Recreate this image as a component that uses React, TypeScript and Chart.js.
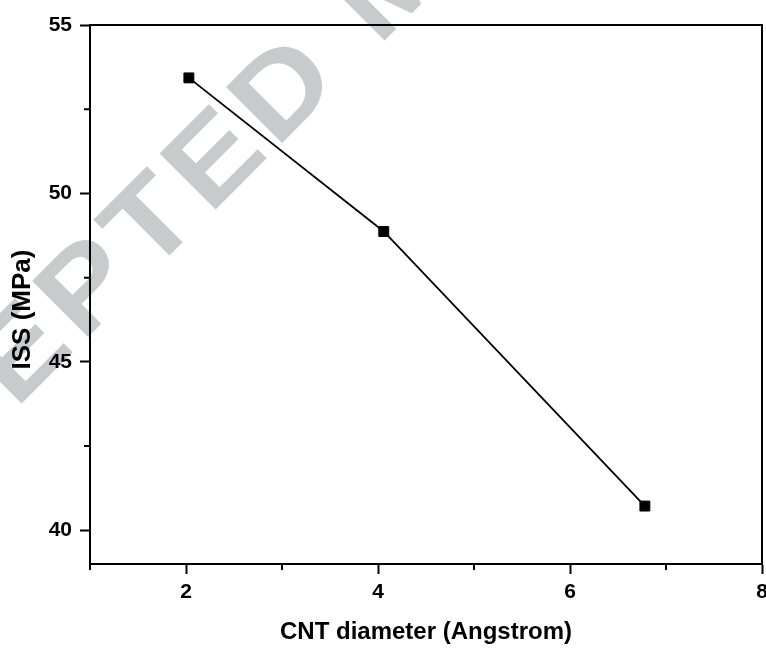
import React, { useEffect, useRef } from 'react';
import { Chart, registerables } from 'chart.js';

Chart.register(...registerables);

const diameters = [2.03, 4.06, 6.78];
const issValues = [53.43, 48.87, 40.72];
const xMajorTicks = [2, 4, 6, 8];
const xMinorTicks = [1, 3, 5, 7];
const yMajorTicks = [40, 45, 50, 55];
const yMinorTicks = [42.5, 47.5, 52.5];
const xTitle = 'CNT diameter (Angstrom)';
const yTitle = 'ISS (MPa)';
const watermark = 'ACCEPTED MANUSCRIPT';

const FONT = "'Liberation Sans', Arial, sans-serif";
const CANVAS_W = 780;
const CANVAS_H = 648;

const watermarkPlugin = {
  id: 'watermark',
  beforeDraw(chart: any) {
    const ctx = chart.ctx;
    ctx.save();
    ctx.font = `bold 115px ${FONT}`;
    ctx.fillStyle = '#c9cacc';
    ctx.textAlign = 'left';
    ctx.textBaseline = 'alphabetic';
    const stretch = 1.12;
    const spacing = 8 / stretch;
    const chars = watermark.split('');
    const advances = chars.map((c) => ctx.measureText(c).width + spacing);
    const pre = advances.slice(0, 7).reduce((a, b) => a + b, 0);
    ctx.translate(276, 149);
    ctx.rotate(-Math.PI / 4);
    ctx.scale(stretch, 1);
    let x = -pre;
    chars.forEach((c, i) => {
      ctx.fillText(c, x, 0);
      x += advances[i];
    });
    ctx.restore();
  },
};

const framePlugin = {
  id: 'frame',
  afterDraw(chart: any) {
    const ctx = chart.ctx;
    const { left, right, top, bottom } = chart.chartArea;
    const xs = chart.scales.x;
    const ys = chart.scales.y;
    ctx.save();
    ctx.strokeStyle = '#000';
    ctx.lineWidth = 2;
    ctx.beginPath();
    ctx.moveTo(left - 1, top);
    ctx.lineTo(right, top);
    ctx.moveTo(right, top - 1);
    ctx.lineTo(right, bottom + 1);
    ctx.stroke();
    ctx.beginPath();
    xMinorTicks.forEach((v) => {
      const px = xs.getPixelForValue(v);
      ctx.moveTo(px, bottom + 1);
      ctx.lineTo(px, bottom + 6);
    });
    yMinorTicks.forEach((v) => {
      const py = ys.getPixelForValue(v);
      ctx.moveTo(left - 1, py);
      ctx.lineTo(left - 6, py);
    });
    ctx.stroke();
    ctx.fillStyle = '#000';
    ctx.font = `bold 26px ${FONT}`;
    ctx.textAlign = 'center';
    ctx.textBaseline = 'middle';
    ctx.translate(23, 309.5);
    ctx.rotate(-Math.PI / 2);
    ctx.fillText(yTitle, 0, 0);
    ctx.restore();
  },
};

export default function App() {
  const canvasRef = useRef<HTMLCanvasElement | null>(null);

  useEffect(() => {
    if (!canvasRef.current) return;
    const chart = new Chart(canvasRef.current, {
      type: 'scatter',
      data: {
        datasets: [
          {
            data: diameters.map((x, i) => ({ x, y: issValues[i] })),
            showLine: true,
            borderColor: '#000',
            borderWidth: 1.8,
            backgroundColor: '#000',
            pointStyle: 'rect',
            pointRadius: 7,
            pointBorderWidth: 1,
            pointBackgroundColor: '#000',
            pointBorderColor: '#000',
            clip: false,
          } as any,
        ],
      },
      options: {
        responsive: false,
        animation: false,
        devicePixelRatio: 1,
        layout: { padding: { left: 0, top: 25, right: CANVAS_W - 762, bottom: 0 } },
        plugins: {
          legend: { display: false },
          tooltip: { enabled: false },
        },
        scales: {
          x: {
            type: 'linear',
            min: 1,
            max: 8,
            afterBuildTicks: (s: any) => {
              s.ticks = xMajorTicks.map((v) => ({ value: v }));
            },
            afterFit: (s: any) => {
              s.height = 84;
            },
            ticks: {
              autoSkip: false,
              maxRotation: 0,
              padding: 6,
              color: '#000',
              font: { family: FONT, size: 21, weight: 'bold' },
              callback: (v: any) => String(v),
            },
            grid: {
              display: true,
              drawOnChartArea: false,
              drawTicks: true,
              tickLength: 10,
              tickWidth: 2,
              tickColor: '#000',
            },
            border: { display: true, color: '#000', width: 2 },
            title: {
              display: true,
              text: xTitle,
              color: '#000',
              font: { family: FONT, size: 24, weight: 'bold' },
              padding: { top: 0, bottom: 1 },
            },
          },
          y: {
            type: 'linear',
            min: 39,
            max: 55,
            afterBuildTicks: (s: any) => {
              s.ticks = yMajorTicks.map((v) => ({ value: v }));
            },
            afterFit: (s: any) => {
              s.width = 90;
            },
            ticks: {
              autoSkip: false,
              padding: 8,
              color: '#000',
              font: { family: FONT, size: 21, weight: 'bold' },
              callback: (v: any) => String(v),
            },
            grid: {
              display: true,
              drawOnChartArea: false,
              drawTicks: true,
              tickLength: 10,
              tickWidth: 2,
              tickColor: '#000',
            },
            border: { display: true, color: '#000', width: 2 },
            title: { display: false },
          },
        },
      } as any,
      plugins: [watermarkPlugin, framePlugin],
    });
    return () => chart.destroy();
  }, []);

  return (
    <div
      style={{
        position: 'absolute',
        left: 0,
        top: 0,
        width: 766,
        height: 648,
        overflow: 'hidden',
        background: '#fff',
      }}
    >
      <canvas ref={canvasRef} width={CANVAS_W} height={CANVAS_H} style={{ display: 'block' }} />
    </div>
  );
}
